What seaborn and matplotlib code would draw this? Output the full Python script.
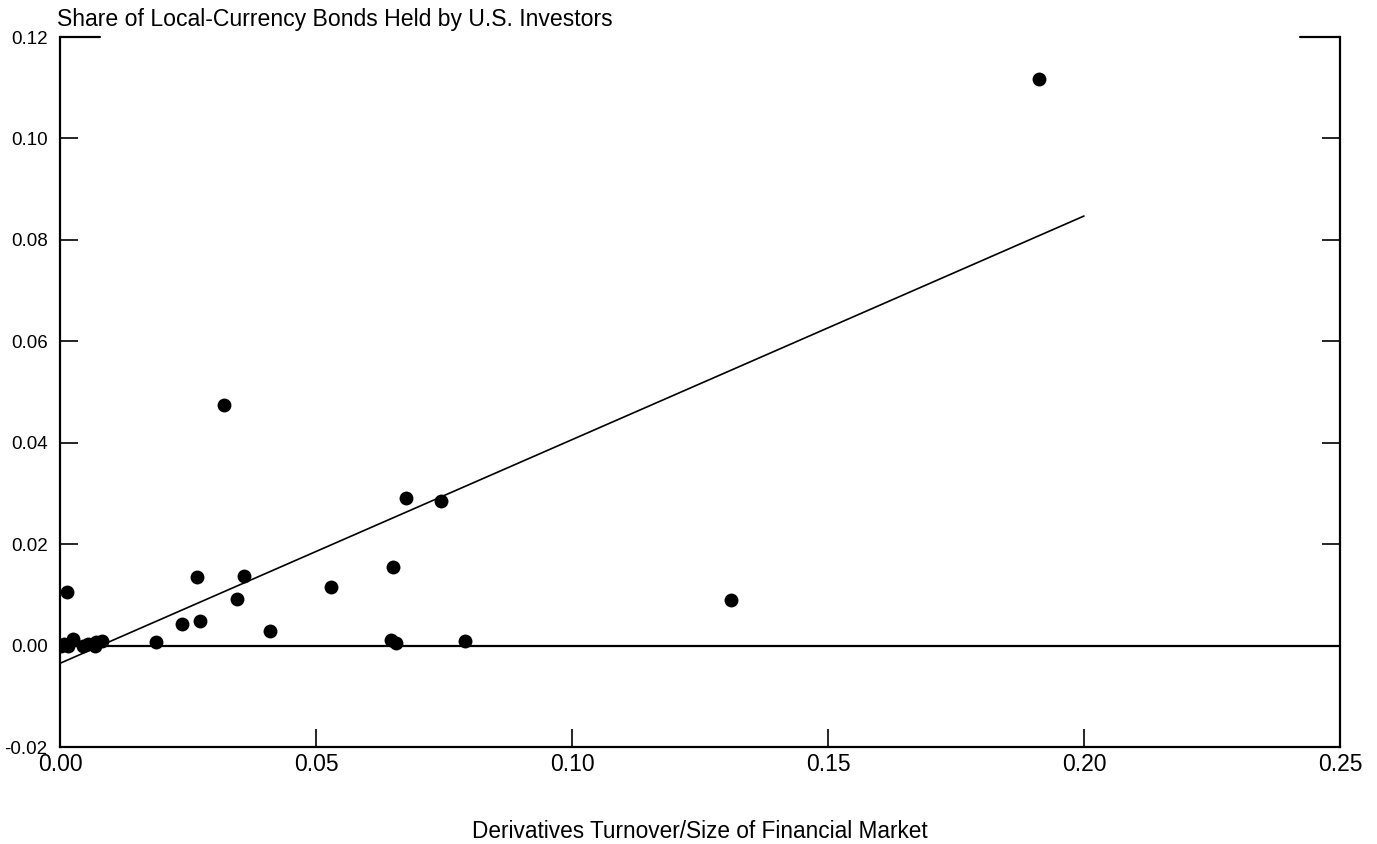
import matplotlib
matplotlib.use("Agg")
import matplotlib.pyplot as plt
import seaborn as sns
import pandas as pd

# turnover / market size vs share held by U.S. investors
turnover = [0.0002, 0.0008, 0.0016, 0.0026, 0.0045, 0.0055, 0.0068, 0.0070, 0.0082,
            0.0013, 0.0188, 0.0238, 0.0267, 0.0274, 0.0320, 0.0345, 0.0359, 0.0411,
            0.0530, 0.0646, 0.0651, 0.0656, 0.0675, 0.0744, 0.0791, 0.1311, 0.1912]
us_share = [0.0000, 0.0004, 0.0000, 0.0013, -0.0001, 0.0003, 0.0000, 0.0008, 0.0009,
            0.0106, 0.0008, 0.0043, 0.0136, 0.0048, 0.0475, 0.0092, 0.0138, 0.0028,
            0.0116, 0.0011, 0.0154, 0.0005, 0.0291, 0.0285, 0.0010, 0.0089, 0.1118]

fit_x = [0.0, 0.20]
fit_y = [-0.0035, 0.0847]

zero_x = [0.0, 0.25]
zero_y = [0.0, 0.0]

x_ticks = [0.00, 0.05, 0.10, 0.15, 0.20, 0.25]
y_ticks = [-0.02, 0.00, 0.02, 0.04, 0.06, 0.08, 0.10, 0.12]

df = pd.DataFrame({"turnover": turnover, "share": us_share})

sns.set_theme(style="white")
plt.rcParams["font.family"] = ["Liberation Sans", "DejaVu Sans"]
plt.rcParams["text.color"] = "black"
plt.rcParams["axes.labelcolor"] = "black"
plt.rcParams["xtick.color"] = "black"
plt.rcParams["ytick.color"] = "black"

fig = plt.figure(figsize=(13.77, 8.44), dpi=100)
ax = fig.add_axes([60 / 1377, 97 / 844, 1280 / 1377, 710 / 844])

sns.lineplot(x=zero_x, y=zero_y, color="black", linewidth=1.6, ax=ax)
sns.lineplot(x=fit_x, y=fit_y, color="black", linewidth=1.2, ax=ax)
sns.scatterplot(data=df, x="turnover", y="share", color="black", s=100,
                edgecolor="black", linewidth=0, ax=ax, zorder=3)

ax.set_xlim(0, 0.25)
ax.set_ylim(-0.02, 0.12)
ax.set_xticks(x_ticks)
ax.set_yticks(y_ticks)
ax.set_xticklabels([f"{v:.2f}" for v in x_ticks], fontsize=16.5)
ax.set_yticklabels([f"{v:.2f}" for v in y_ticks], fontsize=13.5)

ax.tick_params(axis="y", direction="in", length=13, width=1.2, pad=9,
               left=True, right=True)
ax.tick_params(axis="x", direction="in", length=13, width=1.2, pad=4,
               bottom=True)

# longer marks at the top corners
ax.axhline(0.12, xmin=0, xmax=40 / 1280, color="black", linewidth=1.6, clip_on=False)
ax.axhline(0.12, xmin=1 - 40 / 1280, xmax=1, color="black", linewidth=1.6, clip_on=False)

ax.spines["top"].set_visible(False)
for side in ["left", "right", "bottom"]:
    ax.spines[side].set_color("black")
    ax.spines[side].set_linewidth(1.6)

ax.set_xlabel("Derivatives Turnover/Size of Financial Market", fontsize=16.3,
              labelpad=32, color="black")
ax.set_ylabel("")
ax.set_title("Share of Local-Currency Bonds Held by U.S. Investors",
             loc="left", fontsize=16.6, pad=8, x=-0.002, color="black")

fig.savefig("out.png", dpi=100)
